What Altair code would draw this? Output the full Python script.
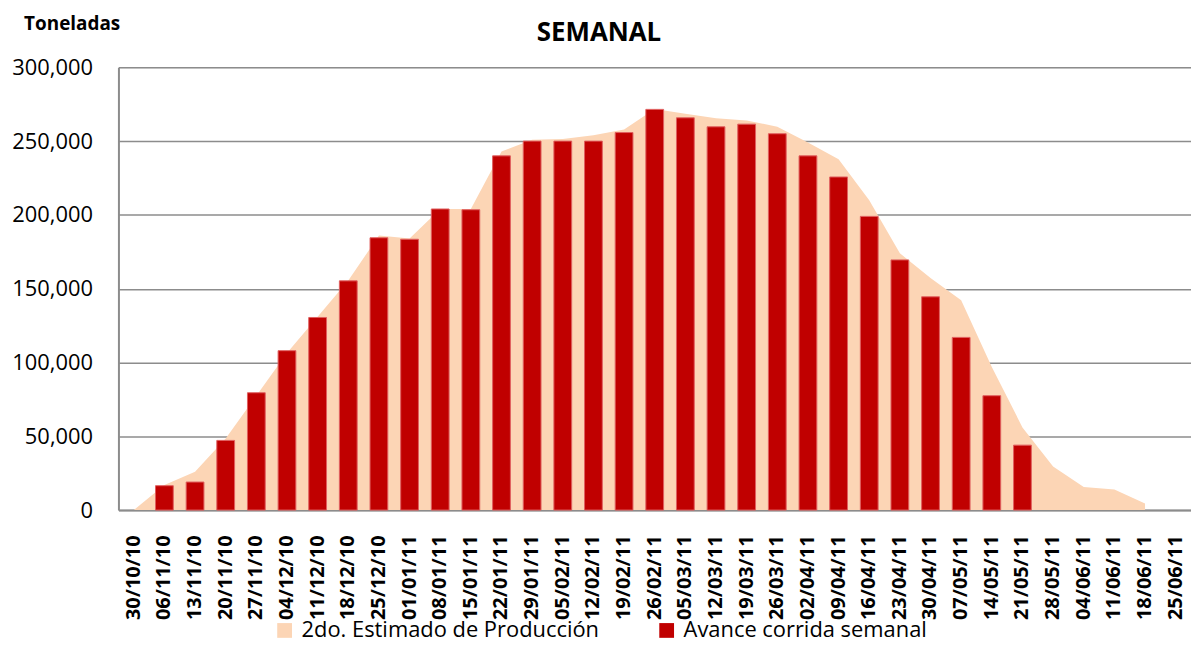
import altair as alt
import pandas as pd

# ---- data ----
weeks = ["30/10/10", "06/11/10", "13/11/10", "20/11/10", "27/11/10", "04/12/10",
         "11/12/10", "18/12/10", "25/12/10", "01/01/11", "08/01/11", "15/01/11",
         "22/01/11", "29/01/11", "05/02/11", "12/02/11", "19/02/11", "26/02/11",
         "05/03/11", "12/03/11", "19/03/11", "26/03/11", "02/04/11", "09/04/11",
         "16/04/11", "23/04/11", "30/04/11", "07/05/11", "14/05/11", "21/05/11",
         "28/05/11", "04/06/11", "11/06/11", "18/06/11", "25/06/11"]

estimado = [0, 17000, 26000, 48500, 77500, 106500, 131000, 155500, 186000, 184000,
            204000, 204000, 243000, 251000, 251500, 254000, 257800, 271800, 268500,
            265500, 264000, 259700, 249000, 237700, 210000, 174000, 157300, 142100,
            97000, 56000, 29600, 15700, 13900, 4500, None]

avance = [None, 16500, 19000, 47200, 79500, 108000, 130500, 155300, 184500, 183500,
          204000, 203500, 240000, 250000, 250000, 250000, 255800, 271500, 265800,
          259700, 261500, 255000, 240000, 225700, 199000, 169500, 144500, 117000,
          77500, 44000, None, None, None, None, None]

series_names = ["2do. Estimado de Producción", "Avance corrida semanal"]
series_colors = ["#FCD5B5", "#C00000"]
y_ticks = [0, 50000, 100000, 150000, 200000, 250000, 300000]
title_text = ["SEMANAL"]
y_title = "Toneladas"

area_df = pd.DataFrame({"semana": weeks, "valor": estimado, "serie": series_names[0]}).dropna()
bar_df = pd.DataFrame({"semana": weeks, "valor": avance, "serie": series_names[1]}).dropna()

FONT = "Open Sans"

x_enc = alt.X(
    "semana:N",
    sort=weeks,
    scale=alt.Scale(domain=weeks, paddingInner=0.42, paddingOuter=0.21),
    axis=alt.Axis(
        title=None, labelAngle=-90, labelAlign="right", labelBaseline="middle",
        labelFont=FONT, labelFontWeight="bold", labelFontSize=20, labelColor="black",
        labelPadding=25, ticks=False, labelOverlap=False,
        domainColor="#8C8C8C", domainWidth=2,
    ),
)

y_enc = alt.Y(
    "valor:Q",
    scale=alt.Scale(domain=[0, 300000], nice=False),
    axis=alt.Axis(
        values=y_ticks, format=",.0f", labelFont=FONT, labelFontSize=22, labelColor="black",
        labelPadding=26, ticks=False, domainColor="#8C8C8C", domainWidth=2,
        gridColor="#8C8C8C", gridWidth=1.5,
        title=y_title, titleFont=FONT, titleFontSize=19, titleFontWeight="bold",
        titleColor="black", titleAngle=0, titleX=-47, titleY=-44,
        titleAlign="center", titleBaseline="middle",
    ),
)

color_enc = alt.Color(
    "serie:N",
    scale=alt.Scale(domain=series_names, range=series_colors),
    legend=alt.Legend(
        title=None, orient="none", legendX=156, legendY=555, direction="horizontal",
        symbolType="square", symbolSize=220, symbolStrokeWidth=0, symbolOpacity=1,
        labelFont=FONT, labelFontSize=22, labelColor="black", labelOffset=6,
        columnPadding=56, padding=0, labelLimit=700,
    ),
)

area = alt.Chart(area_df).mark_area(opacity=1, interpolate="linear").encode(
    x=x_enc, y=y_enc, color=color_enc
)

bars = alt.Chart(bar_df).mark_bar(stroke="#E06060", strokeWidth=1).encode(
    x=x_enc, y=y_enc, color=color_enc
)

title_layer = alt.Chart(pd.DataFrame({"t": title_text})).mark_text(
    font=FONT, fontSize=26, fontWeight="bold", color="black",
    align="center", baseline="middle"
).encode(text="t:N", x=alt.value(483), y=alt.value(-34))

chart = alt.layer(area, bars, title_layer).properties(
    width=1078, height=445,
    autosize=alt.AutoSizeParams(type="none"),
    padding={"left": 111, "top": 58, "right": 0, "bottom": 134},
).configure_view(stroke=None).configure(background="white")

chart.save("out.html", embed_options={"renderer": "svg", "actions": False})
